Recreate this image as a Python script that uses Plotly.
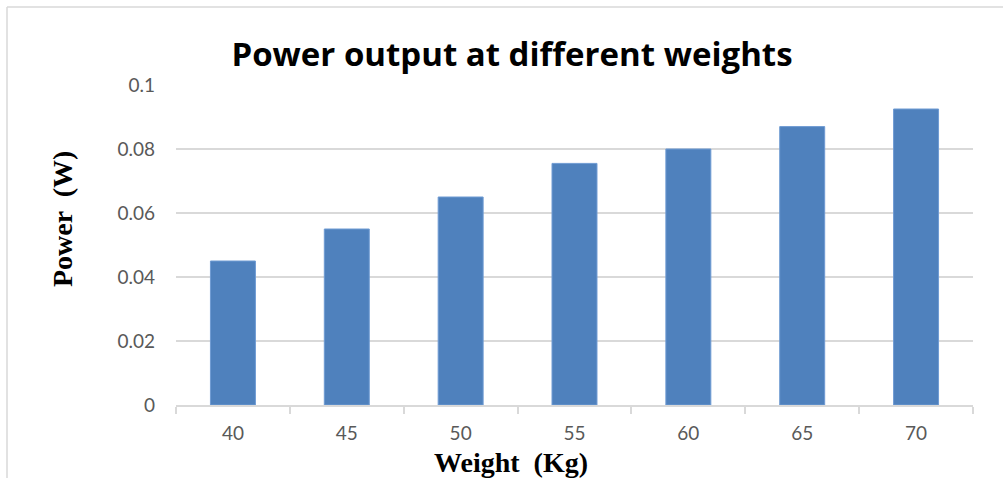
import plotly.graph_objects as go

weights = ["40", "45", "50", "55", "60", "65", "70"]
power = [0.045, 0.055, 0.065, 0.0755, 0.08, 0.087, 0.0925]
y_ticks = [0, 0.02, 0.04, 0.06, 0.08, 0.1]
y_tick_labels = ["0", "0.02", "0.04", "0.06", "0.08", "0.1"]

L, R, T, B = 176, 973, 85, 405
PW, PH = R - L, B - T

def px(x):
    return (x - L) / PW

def py(y):
    return (B - y) / PH

fig = go.Figure(go.Bar(
    x=weights, y=power,
    marker=dict(color="#4F81BD", line=dict(color="#6F9BD3", width=1)),
))

fig.update_layout(
    width=1005, height=478,
    margin=dict(l=L, r=1005 - R, t=T, b=478 - B),
    paper_bgcolor="white", plot_bgcolor="white",
    bargap=0.605,
    showlegend=False,
    title=dict(text="<b>Power output at different weights</b>",
               x=512 / 1005, xanchor="center",
               y=1 - 54 / 478, yanchor="middle",
               font=dict(family="Open Sans", size=33, color="black")),
    shapes=[
        dict(type="line", xref="paper", yref="paper",
             x0=px(7), x1=px(1003), y0=py(7), y1=py(7),
             line=dict(color="#D9D9D9", width=1.5)),
        dict(type="line", xref="paper", yref="paper",
             x0=px(7), x1=px(7), y0=py(7), y1=py(480),
             line=dict(color="#D9D9D9", width=1.5)),
    ],
    annotations=[
        dict(text="<b>Weight  (Kg)</b>", xref="paper", yref="paper",
             x=px(511), y=py(462), xanchor="center", yanchor="middle",
             showarrow=False,
             font=dict(family="Liberation Serif", size=28, color="black")),
        dict(text="<b>Power  (W)</b>", xref="paper", yref="paper",
             x=px(62), y=py(219), xanchor="center", yanchor="middle",
             textangle=-90, showarrow=False,
             font=dict(family="Liberation Serif", size=28, color="black")),
    ],
)

fig.update_xaxes(
    type="category",
    showline=True, linecolor="#D9D9D9", linewidth=1.5,
    ticks="outside", tickson="boundaries", ticklen=7, tickcolor="#D9D9D9", tickwidth=1.5,
    ticklabelstandoff=10,
    tickfont=dict(family="Lato", size=19, color="#595959"),
    showgrid=False,
)

fig.update_yaxes(
    range=[0, 0.1],
    tickvals=y_ticks, ticktext=y_tick_labels,
    showgrid=True, gridcolor="#D9D9D9", gridwidth=1.5,
    zeroline=False, showline=False, ticks="",
    ticklabelstandoff=20,
    tickfont=dict(family="Lato", size=19, color="#595959"),
)

fig.write_html("out.html", config={"displayModeBar": False},
               post_script="document.body.style.margin='0';")
